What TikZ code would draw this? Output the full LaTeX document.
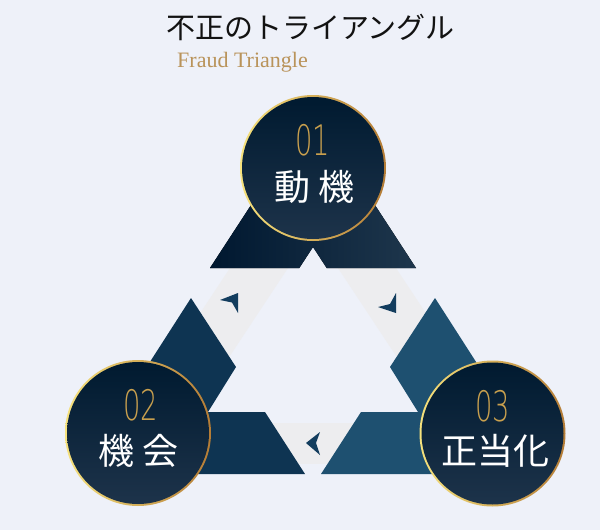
\documentclass[tikz,border=0pt]{standalone}
\usepackage{fontspec}
\usepackage{xcolor}
\usetikzlibrary{positioning}
\setmainfont{Liberation Serif}
\newfontfamily\jpfont{Noto Sans CJK JP}
\newfontfamily\numfont[FakeStretch=0.65]{DejaVu Sans ExtraLight}
\definecolor{bgcol}{HTML}{EEF1F9}
\definecolor{stripcol}{HTML}{EDEDEF}
\definecolor{navyA}{HTML}{001830}
\definecolor{navyB}{HTML}{1E364C}
\definecolor{leftcol}{HTML}{0E3452}
\definecolor{rightcol}{HTML}{1E5070}
\definecolor{discA}{HTML}{001A30}
\definecolor{discB}{HTML}{1D334A}
\definecolor{goldA}{HTML}{F6E27D}
\definecolor{goldB}{HTML}{B47C36}
\definecolor{numcol}{HTML}{C9A04E}
\definecolor{subcol}{HTML}{B9935A}
\definecolor{arrowcol}{HTML}{133D5E}
\tikzset{
  ring/.style={circle, inner sep=0pt, outer sep=0pt, minimum size=146pt, left color=goldA, right color=goldB},
  disc/.style={circle, inner sep=0pt, outer sep=0pt, minimum size=142pt, top color=discA, bottom color=discB},
  numtext/.style={inner sep=0pt, text=numcol, font=\numfont\fontsize{42}{42}\selectfont},
  nametext/.style={inner sep=0pt, text=white, font=\jpfont\fontsize{36}{36}\selectfont},
}

\begin{document}
\begin{tikzpicture}[x=1pt,y=-1pt]
\fill[bgcol] (0,0) rectangle (600,530);
\useasboundingbox (0,0) rectangle (600,530);
\node[inner sep=0pt, font=\jpfont\fontsize{29}{29}\selectfont, text=black!93] (title) at (310.5,27.5) {不正のトライアングル};
\node[inner sep=0pt, anchor=base, font=\fontsize{22}{22}\selectfont, text=subcol] (subtitle) at (242.5,67) {Fraud Triangle};
% grey strips behind the pieces
\fill[stripcol] (230,268) -- (288,268) -- (222.6,367) -- (164.6,367) -- cycle;
\fill[stripcol] (338,268) -- (396,268) -- (461.4,367) -- (403.4,367) -- cycle;
\fill[stripcol] (250,423) rectangle (376,464);
% the three pieces
\fill[left color=navyA, right color=navyB] (210,268) -- (313,110) -- (416,268) -- (326.7,268) -- (313,247) -- (299.3,268) -- cycle;
\fill[leftcol] (191,298) -- (236,367) -- (208,412) -- (265,412) -- (305,474) -- (78,474) -- cycle;
\fill[rightcol] (435,298) -- (390,367) -- (418,412) -- (361,412) -- (321,474) -- (548,474) -- cycle;
% arrows on the strips
\fill[arrowcol] (238,293) -- (220,300) -- (232,302.5) -- (238,313) -- cycle;
\fill[arrowcol] (396,313) -- (378,307) -- (390,304) -- (396,293) -- cycle;
\fill[arrowcol] (306,443) -- (320,432) -- (316,443) -- (320,455) -- cycle;
% circles
\node[ring] (motive) at (313,168) {};
\node[disc] (motivedisc) at (motive.center) {};
\node[numtext] (motivenum) at (312.5,140.5) {01};
\node[nametext] (motivename) at (314.5,186.5) {動 機};
\node[ring] (chance) at (138,433) {};
\node[disc] (chancedisc) at (chance.center) {};
\node[numtext] (chancenum) at (141,405) {02};
\node[nametext] (chancename) at (139,450.5) {機 会};
\node[ring] (excuse) at (492.5,433.5) {};
\node[disc] (excusedisc) at (excuse.center) {};
\node[numtext] (excusenum) at (492.5,406) {03};
\node[nametext] (excusename) at (495,451) {正当化};
\end{tikzpicture}
\end{document}
